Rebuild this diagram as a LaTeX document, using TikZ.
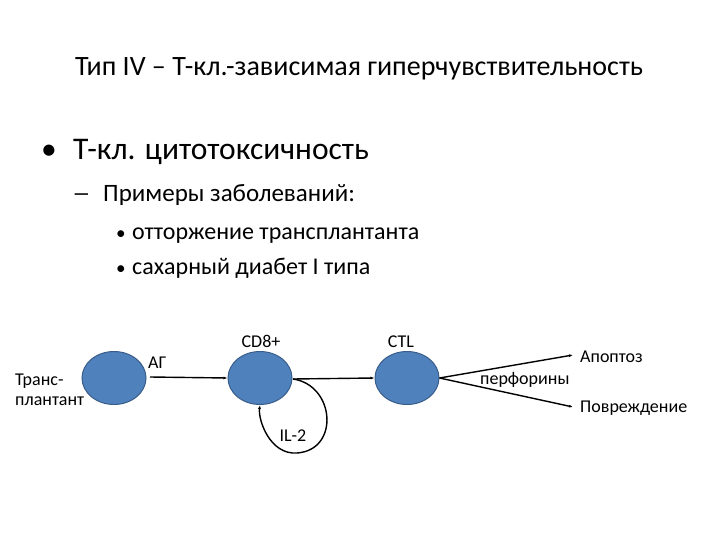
\documentclass[tikz,border=0pt]{standalone}
\usepackage{fontspec}
\setmainfont{Carlito}
\usetikzlibrary{arrows.meta,shapes.geometric}
\definecolor{cellfill}{HTML}{4F81BD}
\definecolor{celldraw}{HTML}{385D8A}
\begin{document}
\begin{tikzpicture}[x=1pt,y=-1pt,
  cell/.style={ellipse,fill=cellfill,draw=celldraw,line width=1pt,minimum width=64pt,minimum height=53pt,inner sep=0pt},
  lbl/.style={font=\fontsize{18}{20}\selectfont,inner sep=0pt},
  conn/.style={line width=1.4pt,-{Latex[length=4pt,width=3pt]}},
  txt/.style={anchor=base west,inner sep=0pt}]
\useasboundingbox (0,0) rectangle (720,540);
\node[anchor=base,inner sep=0pt,font=\fontsize{28}{32}\selectfont] (title) at (359,76) {Тип IV – Т-кл.-зависимая гиперчувствительность};
\node[txt,font=\fontsize{31.5}{34}\selectfont] (b1) at (41,160) {\makebox[32pt][l]{•}Т-кл. цитотоксичность};
\node[txt,font=\fontsize{25}{28}\selectfont] (b2) at (72,202) {\makebox[31pt][l]{\scalebox{1.5}[1]{–}}Примеры заболеваний:};
\node[txt,font=\fontsize{24}{26}\selectfont] (b3) at (116,240) {\makebox[16pt][l]{\scalebox{0.8}{•}}отторжение трансплантанта};
\node[txt,font=\fontsize{24}{26}\selectfont] (b4) at (116,274) {\makebox[16pt][l]{\scalebox{0.8}{•}}сахарный диабет I типа};

\node[cell] (e1) at (114,378) {};
\node[cell] (e2) at (260,378) {};
\node[cell] (e3) at (407,378) {};

\node[lbl,anchor=base west] (tr1) at (15,385) {Транс-};
\node[lbl,anchor=base west] (tr2) at (15,405) {плантант};
\node[lbl,anchor=base west] (ag) at (148,368) {АГ};
\node[lbl,anchor=base] (cd8) at (261,347) {CD8+};
\node[lbl,anchor=base] (ctl) at (401,347) {CTL};
\node[lbl,anchor=base] (il2) at (293,441) {IL-2};
\node[lbl,anchor=base west] (perf) at (480,384) {перфорины};
\node[lbl,anchor=base west] (apo) at (580,362) {Апоптоз};
\node[lbl,anchor=base west] (pov) at (580,412) {Повреждение};

\coordinate (apoend) at (573,355);
\coordinate (povend) at (573,407);
\coordinate (e1out) at (150,377);
\coordinate (e2out) at (293,379);
\coordinate (loopbot) at (297,453);

\draw[conn] (e1out) -- (e2.west);
\draw[conn] (e2out) -- (e3.west);
\draw[conn] (e2out) .. controls (335,385) and (340,450) .. (loopbot) .. controls (270,455) and (258,420) .. (e2.south);
\draw[conn] (e3.east) -- (apoend);
\draw[conn] (e3.east) -- (povend);
\end{tikzpicture}
\end{document}
